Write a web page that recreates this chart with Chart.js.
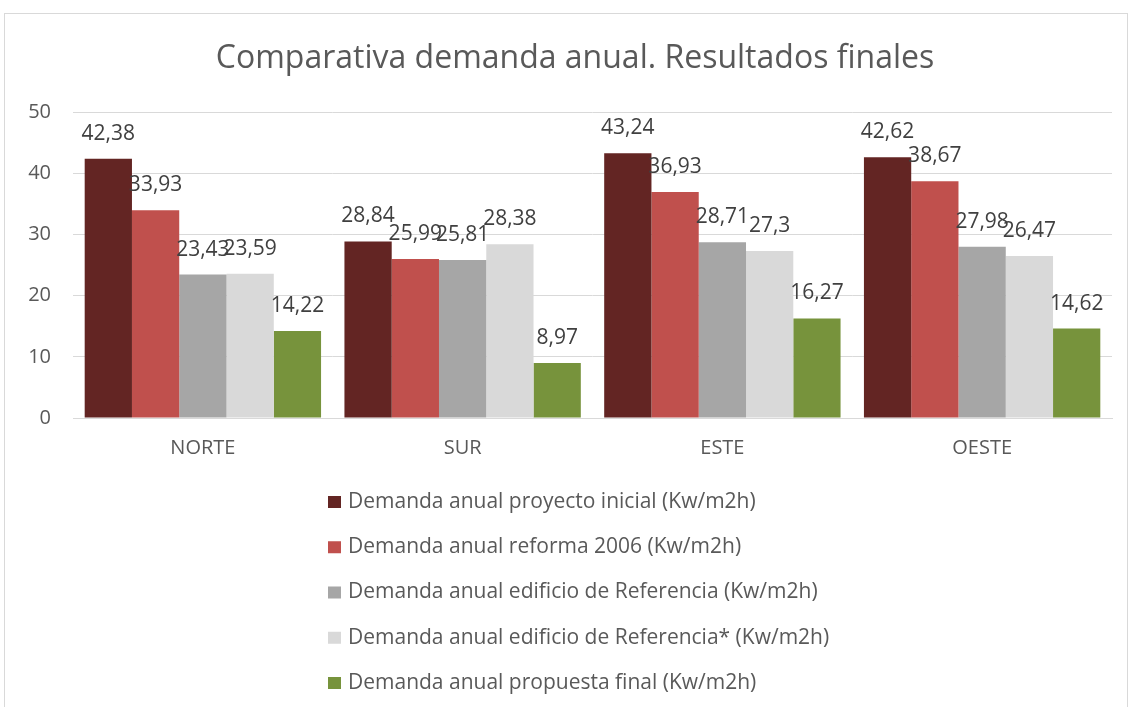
<!DOCTYPE html>
<html>
<head>
<meta charset="utf-8">
<script src="https://cdn.jsdelivr.net/npm/chart.js@4"></script>
<style>
  html, body { margin: 0; padding: 0; background: #fff; }
  #wrap { position: relative; width: 1131px; height: 707px; overflow: hidden; }
  #frame { position: absolute; left: 4px; top: 13px; width: 1124px; height: 740px;
           border: 1px solid #d9d9d9; box-sizing: border-box; }
  canvas { position: absolute; left: 0; top: 0; }
</style>
</head>
<body>
<div id="wrap">
  <div id="frame"></div>
  <canvas id="c" width="1131" height="707"></canvas>
</div>
<script>
// Zonas orientadas
const categories = ['NORTE', 'SUR', 'ESTE', 'OESTE'];

// Nombre de cada serie
const seriesNames = [
  'Demanda anual proyecto inicial (Kw/m2h)',
  'Demanda anual reforma 2006 (Kw/m2h)',
  'Demanda anual edificio de Referencia (Kw/m2h)',
  'Demanda anual edificio de Referencia* (Kw/m2h)',
  'Demanda anual propuesta final (Kw/m2h)'
];

// Valores por serie (NORTE, SUR, ESTE, OESTE)
const proyectoInicial   = [42.38, 28.84, 43.24, 42.62];
const reforma2006       = [33.93, 25.99, 36.93, 38.67];
const edificioRef       = [23.43, 25.81, 28.71, 27.98];
const edificioRefAst    = [23.59, 28.38, 27.3, 26.47];
const propuestaFinal    = [14.22, 8.97, 16.27, 14.62];

// Eje vertical
const yTicks = [0, 10, 20, 30, 40, 50];

const chartTitle = 'Comparativa demanda anual. Resultados finales';

const seriesColors = ['#632523', '#C0504D', '#A6A6A6', '#D9D9D9', '#77933C'];
const seriesValues = [proyectoInicial, reforma2006, edificioRef, edificioRefAst, propuestaFinal];

const FONT = '"Open Sans", Lato, sans-serif';
const TEXT = '#595959';

function formatValue(v) {
  return String(v).replace('.', ',');
}

// Título centrado sobre el área de trazado y las etiquetas del eje
const headTitle = {
  id: 'headTitle',
  afterDraw(chart) {
    const ctx = chart.ctx;
    const area = chart.chartArea;
    ctx.save();
    ctx.font = '32px ' + FONT;
    ctx.fillStyle = TEXT;
    ctx.textAlign = 'center';
    ctx.textBaseline = 'middle';
    ctx.fillText(chartTitle, (38 + area.right) / 2, 59);
    ctx.restore();
  }
};

// Etiquetas de valor sobre cada barra
const valueLabels = {
  id: 'valueLabels',
  afterDatasetsDraw(chart) {
    const ctx = chart.ctx;
    ctx.save();
    ctx.font = '21px ' + FONT;
    ctx.fillStyle = '#404040';
    ctx.textAlign = 'center';
    ctx.textBaseline = 'middle';
    chart.data.datasets.forEach((ds, i) => {
      const meta = chart.getDatasetMeta(i);
      meta.data.forEach((bar, j) => {
        ctx.fillText(formatValue(ds.data[j]), bar.x, bar.y - 25);
      });
    });
    ctx.restore();
  }
};

// Leyenda en columna bajo el gráfico
const columnLegend = {
  id: 'columnLegend',
  afterDraw(chart) {
    const ctx = chart.ctx;
    ctx.save();
    ctx.font = '21px ' + FONT;
    ctx.textBaseline = 'middle';
    ctx.textAlign = 'left';
    const left = 328, top = 502, step = 45.25;
    chart.data.datasets.forEach((ds, i) => {
      const cy = top + i * step;
      ctx.fillStyle = ds.backgroundColor;
      ctx.fillRect(left, cy - 6, 13, 12);
      ctx.fillStyle = TEXT;
      ctx.fillText(ds.label, left + 20, cy);
    });
    ctx.restore();
  }
};

new Chart(document.getElementById('c'), {
  type: 'bar',
  data: {
    labels: categories,
    datasets: seriesNames.map((name, i) => ({
      label: name,
      data: seriesValues[i],
      backgroundColor: seriesColors[i],
      borderWidth: 0,
      categoryPercentage: 0.91,
      barPercentage: 1.0
    }))
  },
  options: {
    responsive: false,
    animation: false,
    layout: { padding: { top: 112, right: 19, bottom: 239, left: 0 } },
    plugins: {
      legend: { display: false },
      tooltip: { enabled: false },
      title: { display: false }
    },
    scales: {
      x: {
        grid: { display: false, drawTicks: false },
        border: { color: '#d9d9d9', width: 1 },
        ticks: { color: TEXT, font: { family: FONT, size: 20 }, padding: 18 },
        afterFit(scale) { scale.height = 50; }
      },
      y: {
        min: yTicks[0],
        max: yTicks[yTicks.length - 1],
        afterBuildTicks(scale) { scale.ticks = yTicks.map(v => ({ value: v })); },
        grid: { color: '#d9d9d9', lineWidth: 1, drawTicks: false },
        border: { display: false },
        ticks: { color: TEXT, font: { family: FONT, size: 20 }, padding: 22 },
        afterFit(scale) { scale.width = 73; }
      }
    }
  },
  plugins: [valueLabels, columnLegend, headTitle]
});
</script>
</body>
</html>
